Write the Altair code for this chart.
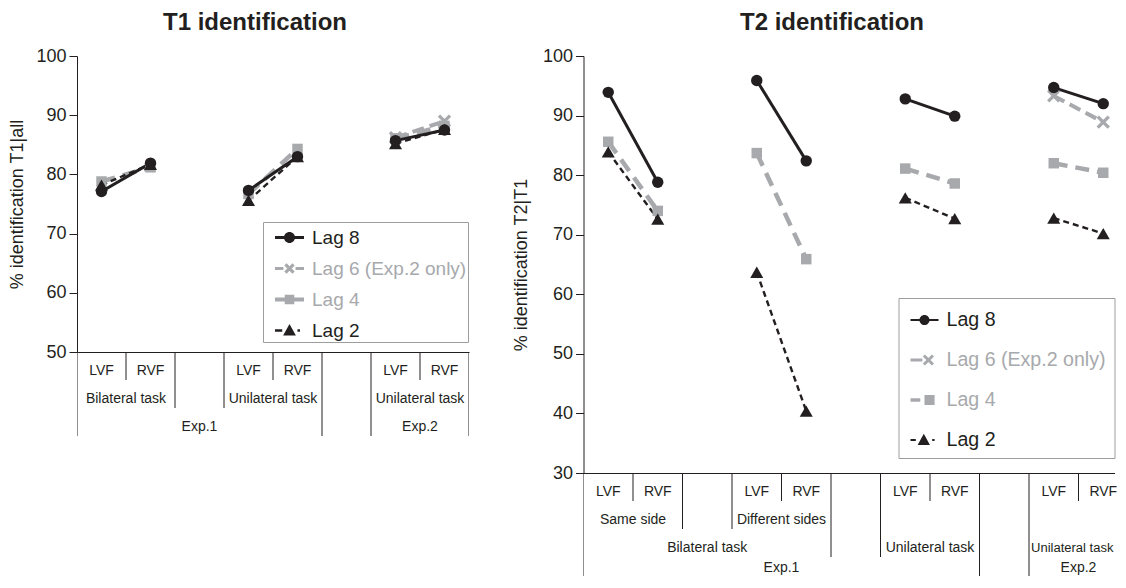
import altair as alt
import pandas as pd

FONT = "Liberation Sans"
BLACK = "#231f20"
GRAY = "#a7a9ac"

LAGS = ["Lag 8", "Lag 6 (Exp.2 only)", "Lag 4", "Lag 2"]

# ---------------- T1 identification (T1|all) ----------------
t1_order = ["B-LVF", "B-RVF", "gap1", "U-LVF", "U-RVF", "gap2", "E2-LVF", "E2-RVF"]
t1_cats = ["B-LVF", "B-RVF", "U-LVF", "U-RVF", "E2-LVF", "E2-RVF"]
t1_pairs = ["bil", "bil", "uni", "uni", "exp2", "exp2"]
t1_lag8 = [77.1, 81.9, 77.3, 83.0, 85.7, 87.5]
t1_lag6 = [None, None, None, None, 86.2, 89.0]
t1_lag4 = [78.8, 81.2, 76.7, 84.3, 86.1, 88.2]
t1_lag2 = [78.2, 81.7, 75.6, 83.0, 85.2, 87.6]

t1_lab_text = ["LVF", "RVF", "LVF", "RVF", "LVF", "RVF",
               "Bilateral task", "Unilateral task", "Unilateral task",
               "Exp.1", "Exp.2"]
t1_lab_from = ["B-LVF", "B-RVF", "U-LVF", "U-RVF", "E2-LVF", "E2-RVF",
               "B-LVF", "U-LVF", "E2-LVF", "B-LVF", "E2-LVF"]
t1_lab_to = ["B-LVF", "B-RVF", "U-LVF", "U-RVF", "E2-LVF", "E2-RVF",
             "B-RVF", "U-RVF", "E2-RVF", "U-RVF", "E2-RVF"]
t1_lab_row = [1, 1, 1, 1, 1, 1, 2, 2, 2, 3, 3]
t1_sep_depth = [3, 1, 2, 2, 1, 3, 3, 1, 3]
t1_yticks = [50, 60, 70, 80, 90, 100]

# ---------------- T2 identification (T2|T1) ----------------
t2_order = ["S-LVF", "S-RVF", "gap1", "D-LVF", "D-RVF", "gap2",
            "U-LVF", "U-RVF", "gap3", "E2-LVF", "E2-RVF"]
t2_cats = ["S-LVF", "S-RVF", "D-LVF", "D-RVF", "U-LVF", "U-RVF", "E2-LVF", "E2-RVF"]
t2_pairs = ["same", "same", "diff", "diff", "uni", "uni", "exp2", "exp2"]
t2_lag8 = [93.9, 78.8, 95.9, 82.4, 92.8, 89.9, 94.7, 92.0]
t2_lag6 = [None, None, None, None, None, None, 93.3, 88.9]
t2_lag4 = [85.6, 74.0, 83.7, 65.9, 81.1, 78.6, 82.0, 80.4]
t2_lag2 = [83.9, 72.6, 63.7, 40.4, 76.2, 72.7, 72.8, 70.2]

t2_lab_text = ["LVF", "RVF", "LVF", "RVF", "LVF", "RVF", "LVF", "RVF",
               "Same side", "Different sides",
               "Bilateral task", "Unilateral task", "Unilateral task",
               "Exp.1", "Exp.2"]
t2_lab_from = ["S-LVF", "S-RVF", "D-LVF", "D-RVF", "U-LVF", "U-RVF", "E2-LVF", "E2-RVF",
               "S-LVF", "D-LVF",
               "S-LVF", "U-LVF", "E2-LVF",
               "S-LVF", "E2-LVF"]
t2_lab_to = ["S-LVF", "S-RVF", "D-LVF", "D-RVF", "U-LVF", "U-RVF", "E2-LVF", "E2-RVF",
             "S-RVF", "D-RVF",
             "D-RVF", "U-RVF", "E2-RVF",
             "U-RVF", "E2-RVF"]
t2_lab_row = [1, 1, 1, 1, 1, 1, 1, 1, 2, 2, 3, 3, 3, 4, 4]
t2_sep_depth = [4, 1, 2, 2, 1, 3, 3, 1, 4, 4, 1, 4]
t2_yticks = [30, 40, 50, 60, 70, 80, 90, 100]


# ---------------- styles ----------------
def rect(x0, x1, h):
    return f"M{x0},{-h}H{x1}V{h}H{x0}Z"


def circle(cx, r):
    return f"M{cx + r},0A{r},{r},0,1,1,{cx - r},0A{r},{r},0,1,1,{cx + r},0Z"


def square(cx, s):
    return f"M{cx - s},{-s}H{cx + s}V{s}H{cx - s}Z"


def tri(cx, s):
    return f"M{cx},{-s}L{cx + s},{0.8 * s}L{cx - s},{0.8 * s}Z"


def xmark(cx, s, t):
    return (f"M{cx - s},{-s + t}L{cx - s + t},{-s}L{cx + s},{s - t}L{cx + s - t},{s}Z"
            f"M{cx + s - t},{-s}L{cx + s},{-s + t}L{cx - s + t},{s}L{cx - s},{s - t}Z")


XSHAPE = xmark(0, 1, 0.35)

STYLE = {
    "Lag 8": dict(color=BLACK, dash=None, width=3, shape="circle", size=130),
    "Lag 6 (Exp.2 only)": dict(color=GRAY, dash=[12, 6], width=4, shape=XSHAPE, size=180),
    "Lag 4": dict(color=GRAY, dash=[14, 8], width=4.5, shape="square", size=110),
    "Lag 2": dict(color=BLACK, dash=[6, 4], width=2.4, shape="triangle-up", size=170),
}
DRAW_ORDER = ["Lag 4", "Lag 6 (Exp.2 only)", "Lag 8", "Lag 2"]
LEG_COLORS = [STYLE[l]["color"] for l in LAGS]

T1_LEG_SHAPES = [
    rect(-1, 1, 0.1) + circle(0, 0.38),
    rect(-1, -0.42, 0.11) + xmark(0, 0.36, 0.16) + rect(0.42, 1, 0.11),
    rect(-1, 1, 0.13) + square(0, 0.33),
    rect(-1, -0.5, 0.08) + tri(0, 0.44) + rect(0.55, 0.72, 0.08),
]
T2_LEG_SHAPES = [
    rect(-1, 1, 0.08) + circle(0, 0.36),
    rect(-1, -0.15, 0.1) + xmark(0.28, 0.4, 0.15),
    rect(-1, -0.3, 0.12) + square(0.36, 0.36),
    rect(-1, -0.62, 0.08) + tri(-0.05, 0.44) + rect(0.55, 0.72, 0.08),
]

ROW_H = 28        # height of one row of the category axis
LAB_FS = 14       # font size of category labels
# approximate glyph advance widths (em) of the sans font, used to keep labels inside the plot
EM = {"L": .556, "V": .667, "F": .611, "R": .722, "S": .667, "a": .556, "m": .833,
      "e": .556, " ": .278, "s": .5, "i": .222, "d": .556, "D": .722, "f": .278,
      "r": .333, "n": .556, "t": .278, "B": .667, "l": .222, "k": .5, "U": .722,
      "E": .667, "x": .5, "p": .556, ".": .278, "1": .556, "2": .556}


def text_em(s):
    return sum(EM.get(ch, 0.6) for ch in s)


def table(order, cats, pairs, series):
    rows = []
    for lag, vals in zip(LAGS, series):
        for c, p, v in zip(cats, pairs, vals):
            if v is not None:
                rows.append({"lag": lag, "cond": c, "pair": p,
                             "slot": order.index(c), "value": v})
    return pd.DataFrame(rows)


def label_table(order, texts, froms, tos, rows, W, slot_w, vis_rows):
    recs = []
    for t, a, b, r in zip(texts, froms, tos, rows):
        left_px = order.index(a) * slot_w
        right_px = (order.index(b) + 1) * slot_w
        em = text_em(t)
        fs = LAB_FS
        cx = (left_px + right_px) / 2
        if r > 1 and cx + em * fs / 2 > W - 1:
            fs = min(LAB_FS, (W - 3 - left_px) / em)
            cx = left_px + 2 + em * fs / 2
        recs.append({"text": t, "row": r, "fs": fs,
                     "xc": cx / slot_w - 0.5,
                     "yc": min(r - 0.5, vis_rows - 0.45)})
    return pd.DataFrame(recs)


def panel(order, df, texts, froms, tos, rows, depths, bottom_h, W, slot_w, H,
          ydomain, yticks, ytitle, title, title_dx, ytitle_pad, leg):
    xscale = alt.Scale(domain=[-0.5, -0.5 + W / slot_w], nice=False, zero=False)
    x_enc = alt.X("slot:Q", scale=xscale,
                  axis=alt.Axis(domain=True, domainColor=BLACK, domainWidth=1,
                                ticks=False, labels=False, grid=False, title=None))
    y_enc = alt.Y("value:Q", scale=alt.Scale(domain=ydomain, nice=False, zero=False),
                  axis=alt.Axis(values=yticks, tickSize=8, tickColor=BLACK, tickWidth=1,
                                domainColor=BLACK, domainWidth=1, grid=False,
                                labelFont=FONT, labelFontSize=18, labelColor=BLACK,
                                labelPadding=3, title=ytitle, titleFont=FONT,
                                titleFontSize=18, titleFontWeight="normal",
                                titleColor=BLACK, titlePadding=ytitle_pad))
    base = alt.Chart(df)
    layers = []
    for lag in DRAW_ORDER:
        st = STYLE[lag]
        kw = dict(color=st["color"], strokeWidth=st["width"])
        if st["dash"]:
            kw["strokeDash"] = st["dash"]
        layers.append(base.transform_filter(alt.datum.lag == lag)
                      .mark_line(**kw).encode(x=x_enc, y=y_enc, detail="pair:N"))
    for lag in DRAW_ORDER:
        st = STYLE[lag]
        layers.append(base.transform_filter(alt.datum.lag == lag)
                      .mark_point(filled=True, shape=st["shape"], size=st["size"],
                                  color=st["color"], opacity=1, strokeWidth=0)
                      .encode(x=x_enc, y=y_enc))
    legend = alt.Legend(
        title=None, orient="none", legendX=leg["x"], legendY=leg["y"],
        padding=leg["pad"], symbolOffset=leg["symoff"], symbolSize=leg["symsize"],
        symbolStrokeWidth=0, symbolOpacity=1, labelFont=FONT,
        labelFontSize=leg["font"], labelOffset=8, rowPadding=leg["rowpad"],
        strokeColor="#9d9d9d", fillColor="white", labelLimit=400,
        labelColor={"expr": f"indexof(['Lag 8', 'Lag 2'], datum.value) >= 0 ? '{BLACK}' : '{GRAY}'"},
    )
    layers.append(base.mark_point(filled=True).encode(
        x=x_enc, y=y_enc,
        color=alt.Color("lag:N", scale=alt.Scale(domain=LAGS, range=LEG_COLORS), legend=legend),
        shape=alt.Shape("lag:N", scale=alt.Scale(domain=LAGS, range=leg["shapes"]), legend=legend),
        opacity=alt.value(0),
    ))
    top = alt.layer(*layers).properties(
        width=W, height=H,
        title=alt.TitleParams(title, font=FONT, fontSize=24, fontWeight="bold",
                              color=BLACK, anchor="middle", frame="group",
                              dx=title_dx, offset=12),
    )

    # hierarchical category axis below the plot
    vis_rows = bottom_h / ROW_H
    seps = pd.DataFrame({"b": [k - 0.5 for k in range(len(depths))],
                         "top": [0] * len(depths), "depth": depths})
    labs = label_table(order, texts, froms, tos, rows, W, slot_w, vis_rows)
    yscale_b = alt.Scale(domain=[0, vis_rows], reverse=True, nice=False, zero=False)
    sep_layer = alt.Chart(seps).mark_rule(color=BLACK, strokeWidth=1, clip=True).encode(
        x=alt.X("b:Q", scale=xscale, axis=None),
        y=alt.Y("top:Q", scale=yscale_b, axis=None),
        y2="depth:Q",
    )
    lab_enc = dict(
        x=alt.X("xc:Q", scale=xscale, axis=None),
        y=alt.Y("yc:Q", scale=yscale_b, axis=None),
        text="text:N",
        size=alt.Size("fs:Q", scale=None, legend=None),
    )
    lab_first = alt.Chart(labs).transform_filter(alt.datum.row == 1).mark_text(
        font=FONT, color=BLACK, baseline="middle", dy=5).encode(**lab_enc)
    lab_rest = alt.Chart(labs).transform_filter(alt.datum.row > 1).mark_text(
        font=FONT, color=BLACK, baseline="middle", dy=5,
        clip=True).encode(**lab_enc)
    bottom = alt.layer(sep_layer, lab_first, lab_rest).properties(width=W, height=bottom_h)
    return alt.vconcat(top, bottom, spacing=0, bounds="flush")


t1_df = table(t1_order, t1_cats, t1_pairs, [t1_lag8, t1_lag6, t1_lag4, t1_lag2])
t2_df = table(t2_order, t2_cats, t2_pairs, [t2_lag8, t2_lag6, t2_lag4, t2_lag2])

left = panel(t1_order, t1_df, t1_lab_text, t1_lab_from, t1_lab_to, t1_lab_row,
             t1_sep_depth, 3 * ROW_H, 392, 49, 296, [50, 100], t1_yticks,
             "% identification T1|all", "T1 identification", -18, 9,
             dict(x=186, y=166, pad=1, symoff=11, symsize=841, font=19, rowpad=6,
                  shapes=T1_LEG_SHAPES))
right = panel(t2_order, t2_df, t2_lab_text, t2_lab_from, t2_lab_to, t2_lab_row,
              t2_sep_depth, 103, 531, 49.5, 417, [30, 100], t2_yticks,
              "% identification T2|T1", "T2 identification", -17, 12,
              dict(x=315, y=242, pad=8, symoff=4, symsize=784, font=19.6, rowpad=16,
                   shapes=T2_LEG_SHAPES))

chart = (
    alt.hconcat(left, right, spacing=42.5)
    .resolve_scale(color="independent", shape="independent")
    .properties(padding={"left": 0, "top": 3, "right": 0, "bottom": 0},
                background="white")
    .configure_view(stroke="transparent", strokeWidth=0)
)

chart.save("out.html", embed_options={"renderer": "svg", "actions": False})
